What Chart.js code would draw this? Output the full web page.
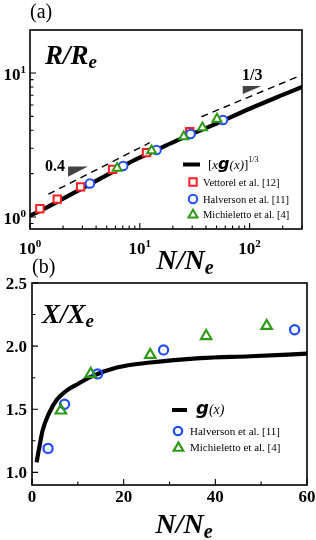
<!DOCTYPE html>
<html><head><meta charset="utf-8">
<script src="https://cdn.jsdelivr.net/npm/chart.js@4.4.1/dist/chart.umd.min.js"></script>
<style>
html,body{margin:0;padding:0;background:#fff;}
body{width:316px;height:540px;position:relative;overflow:hidden}
canvas{position:absolute;left:0}
#ca{top:0}
#cb{top:250px}
</style></head><body>
<canvas id="ca" width="316" height="290"></canvas>
<canvas id="cb" width="316" height="290"></canvas>
<script>
// ---------- Panel (a) data : R/Re vs N/Ne (log-log) ----------
const aCurveN = [1, 1.5, 2, 3, 5, 8, 12, 20, 30, 50, 100, 200, 300];
const aCurveR = [1.02, 1.19, 1.34, 1.58, 1.95, 2.38, 2.75, 3.30, 3.78, 4.45, 5.65, 7.05, 8.00];
const aVettorelN = [1.23, 1.77, 2.89, 5.65, 11.5, 28.5];
const aVettorelR = [1.14, 1.33, 1.62, 2.14, 2.80, 3.91];
const aHalversonN = [3.51, 7.05, 14.2, 29.0, 57.2];
const aHalversonR = [1.71, 2.26, 2.92, 3.77, 4.72];
const aMichielettoN = [6.22, 12.8, 25.1, 37.2, 50.4];
const aMichielettoR = [2.18, 2.89, 3.61, 4.17, 4.79];
const aGuide04N = [1.47, 12.3];
const aGuide04R = [1.44, 3.28];
const aGuide13N = [36.4, 300];
const aGuide13R = [4.97, 9.70];
const aSlope04TriN = [2.22, 3.37, 2.22];
const aSlope04TriR = [2.24, 2.24, 1.90];
const aSlope13TriN = [86.6, 128.7, 86.6];
const aSlope13TriR = [8.13, 8.13, 7.16];
const aXTicks = [1, 10, 100];
const aXTickExp = ['0', '1', '2'];
const aYTicks = [1, 10];
const aYTickExp = ['0', '1'];

// ---------- Panel (b) data : X/Xe vs N/Ne ----------
const bCurveN = [1, 1.6, 2.3, 3.6, 5.4, 7.6, 10, 12.7, 18.5, 25.8, 36.7, 47.6, 60];
const bCurveX = [1.08, 1.20, 1.33, 1.46, 1.575, 1.65, 1.70, 1.755, 1.83, 1.87, 1.905, 1.92, 1.94];
const bHalversonN = [3.5, 7.1, 14.3, 28.7, 57.3];
const bHalversonX = [1.19, 1.54, 1.78, 1.97, 2.13];
const bMichielettoN = [6.3, 12.8, 25.8, 38.0, 51.2];
const bMichielettoX = [1.49, 1.78, 1.93, 2.08, 2.16];
const bXTicks = [0, 20, 40, 60];
const bXTickLabels = ['0', '20', '40', '60'];
const bXMinor = [10, 30, 50];
const bYTicks = [1.0, 1.5, 2.0, 2.5];
const bYTickLabels = ['1.0', '1.5', '2.0', '2.5'];
const bYMinor = [1.25, 1.75, 2.25];

const RED = '#ff1f1f', BLUE = '#1f4dff', GREEN = '#2e9a14';
const SERIF = '"Liberation Serif","Times New Roman",serif';
const F = (s, w) => (w || '') + ' ' + s + 'px ' + SERIF;
const pts = (xs, ys) => xs.map((x, i) => ({x: x, y: ys[i]}));

function drawRuns(ctx, x, y, parts, align) {
  let w = 0;
  for (const p of parts) { ctx.font = p.f; w += ctx.measureText(p.t).width + (p.gap || 0); }
  let cx = align === 'center' ? x - w / 2 : align === 'right' ? x - w : x;
  ctx.textAlign = 'left'; ctx.textBaseline = 'alphabetic'; ctx.fillStyle = '#000';
  for (const p of parts) {
    ctx.font = p.f;
    ctx.fillText(p.t, cx, y + (p.dy || 0));
    cx += ctx.measureText(p.t).width + (p.gap || 0);
  }
}
function marker(ctx, style, x, y, r, color, lw) {
  ctx.save(); ctx.lineWidth = lw; ctx.strokeStyle = color; ctx.fillStyle = '#fff';
  ctx.beginPath();
  if (style === 'rect') { const s = Math.SQRT1_2 * r; ctx.rect(x - s, y - s, 2 * s, 2 * s); }
  else if (style === 'circle') { ctx.arc(x, y, r, 0, Math.PI * 2); }
  else { const k = Math.sin(Math.PI / 3) * r; ctx.moveTo(x, y - r); ctx.lineTo(x + k, y + r / 2); ctx.lineTo(x - k, y + r / 2); ctx.closePath(); }
  ctx.fill(); ctx.stroke(); ctx.restore();
}
function hline(ctx, x1, x2, y, w) {
  ctx.save(); ctx.lineWidth = w; ctx.strokeStyle = '#000'; ctx.beginPath(); ctx.moveTo(x1, y); ctx.lineTo(x2, y); ctx.stroke(); ctx.restore();
}

const panelA = {
  id: 'panelA',
  afterDatasetsDraw(chart) {
    const ctx = chart.ctx, a = chart.chartArea, xs = chart.scales.x, ys = chart.scales.y;
    ctx.save();
    ctx.fillStyle = '#444';
    [[aSlope04TriN, aSlope04TriR], [aSlope13TriN, aSlope13TriR]].forEach(([n, r]) => {
      ctx.beginPath();
      n.forEach((v, i) => { const px = xs.getPixelForValue(v), py = ys.getPixelForValue(r[i]); i ? ctx.lineTo(px, py) : ctx.moveTo(px, py); });
      ctx.closePath(); ctx.fill();
    });
    ctx.strokeStyle = '#000'; ctx.lineWidth = 1.6;
    ctx.strokeRect(a.left, a.top, a.right - a.left, a.bottom - a.top);
    ctx.lineWidth = 1.1; ctx.beginPath();
    aXTicks.forEach(t => { for (let m = 1; m < 10; m++) { const v = t * m; if (v > xs.max) break; const px = xs.getPixelForValue(v); const L = m === 1 ? 6 : 3.5; ctx.moveTo(px, a.bottom); ctx.lineTo(px, a.bottom - L); } });
    [0.1].concat(aYTicks).forEach(t => { for (let m = 1; m < 10; m++) { const v = t * m; if (v < ys.min || v > ys.max) continue; const py = ys.getPixelForValue(v); const L = (m === 1) ? 6 : 3.5; ctx.moveTo(a.left, py); ctx.lineTo(a.left + L, py); } });
    ctx.stroke();
    aXTicks.forEach((t, i) => drawRuns(ctx, xs.getPixelForValue(t), 254, [{t: '10', f: F(17, 'bold')}, {t: aXTickExp[i], f: F(11, 'bold'), dy: -7}], 'center'));
    aYTicks.forEach((t, i) => drawRuns(ctx, 26, ys.getPixelForValue(t) + 7, [{t: '10', f: F(17, 'bold')}, {t: aYTickExp[i], f: F(11, 'bold'), dy: -7}], 'right'));
    drawRuns(ctx, 30, 18, [{t: '(a)', f: F(20, '')}]);
    drawRuns(ctx, 45, 64, [{t: 'R/R', f: F(27, 'bold italic')}, {t: 'e', f: F(19, 'bold italic'), dy: 4}]);
    drawRuns(ctx, 185, 269, [{t: 'N/N', f: F(28, 'bold italic')}, {t: 'e', f: F(20, 'bold italic'), dy: 5}], 'center');
    drawRuns(ctx, 45, 171, [{t: '0.4', f: F(16, 'bold')}]);
    drawRuns(ctx, 242, 80, [{t: '1/3', f: F(16, 'bold')}]);
    hline(ctx, 183, 200, 164.5, 4);
    drawRuns(ctx, 208, 169, [{t: '[', f: F(13, '')}, {t: 'x', f: F(13, 'italic')}, {t: 'g', f: 'bold italic 16px "DejaVu Sans"'}, {t: '(x)', f: F(13, 'italic')}, {t: ']', f: F(13, '')}, {t: '1/3', f: F(8, ''), dy: -7}]);
    marker(ctx, 'rect', 193, 182, 5.2, RED, 2);
    drawRuns(ctx, 203, 186, [{t: 'Vettorel et al. [12]', f: F(10.5, '')}]);
    marker(ctx, 'circle', 193, 199, 4.2, BLUE, 2);
    drawRuns(ctx, 203, 203, [{t: 'Halverson et al. [11]', f: F(10.5, '')}]);
    marker(ctx, 'triangle', 193, 215, 5.2, GREEN, 2);
    drawRuns(ctx, 203, 218, [{t: 'Michieletto et al. [4]', f: F(10.5, '')}]);
    ctx.restore();
  }
};

const panelB = {
  id: 'panelB',
  afterDatasetsDraw(chart) {
    const ctx = chart.ctx, a = chart.chartArea, xs = chart.scales.x, ys = chart.scales.y;
    ctx.save();
    ctx.strokeStyle = '#000'; ctx.lineWidth = 1.6;
    ctx.strokeRect(a.left, a.top, a.right - a.left, a.bottom - a.top);
    ctx.lineWidth = 1.1; ctx.beginPath();
    bXTicks.concat(bXMinor).forEach((t, i) => { const px = xs.getPixelForValue(t); const L = i < bXTicks.length ? 6 : 3.5; ctx.moveTo(px, a.bottom); ctx.lineTo(px, a.bottom - L); });
    bYTicks.concat(bYMinor).forEach((t, i) => { const py = ys.getPixelForValue(t); const L = i < bYTicks.length ? 6 : 3.5; ctx.moveTo(a.left, py); ctx.lineTo(a.left + L, py); });
    ctx.stroke();
    bXTicks.forEach((t, i) => drawRuns(ctx, xs.getPixelForValue(t), 251.5, [{t: bXTickLabels[i], f: F(17, 'bold')}], 'center'));
    bYTicks.forEach((t, i) => drawRuns(ctx, 27, ys.getPixelForValue(t) + 6, [{t: bYTickLabels[i], f: F(17, 'bold')}], 'right'));
    drawRuns(ctx, 32, 23, [{t: '(b)', f: F(20, '')}]);
    drawRuns(ctx, 42, 73, [{t: 'X/X', f: F(27, 'bold italic')}, {t: 'e', f: F(19, 'bold italic'), dy: 4}]);
    drawRuns(ctx, 184, 283, [{t: 'N/N', f: F(28, 'bold italic')}, {t: 'e', f: F(20, 'bold italic'), dy: 5}], 'center');
    hline(ctx, 172, 187, 160, 4);
    drawRuns(ctx, 196, 164, [{t: 'g', f: 'bold italic 18px "DejaVu Sans"'}, {t: '(x)', f: F(14, 'italic')}]);
    marker(ctx, 'circle', 178, 181, 4.2, BLUE, 2.2);
    drawRuns(ctx, 190, 185, [{t: 'Halverson et al. [11]', f: F(11, '')}]);
    marker(ctx, 'triangle', 178.5, 198, 5.5, GREEN, 2.2);
    drawRuns(ctx, 190, 201, [{t: 'Michieletto et al. [4]', f: F(11, '')}]);
    ctx.restore();
  }
};

const common = {
  responsive: false, animation: false, devicePixelRatio: 1, events: [],
  plugins: {legend: {display: false}, tooltip: {enabled: false}}
};

new Chart(document.getElementById('ca'), {
  type: 'scatter',
  data: {datasets: [
    {type: 'line', data: pts(aGuide04N, aGuide04R), borderColor: '#000', borderWidth: 1.4, borderDash: [7, 5], pointRadius: 0, order: 9},
    {type: 'line', data: pts(aGuide13N, aGuide13R), borderColor: '#000', borderWidth: 1.4, borderDash: [7, 5], pointRadius: 0, order: 9},
    {type: 'line', data: pts(aCurveN, aCurveR), borderColor: '#000', borderWidth: 4.2, pointRadius: 0, cubicInterpolationMode: 'monotone', order: 8},
    {data: pts(aVettorelN, aVettorelR), pointStyle: 'rect', pointRadius: 5.2, borderColor: RED, backgroundColor: '#fff', borderWidth: 2, order: 3},
    {data: pts(aHalversonN, aHalversonR), pointStyle: 'circle', pointRadius: 4.3, borderColor: BLUE, backgroundColor: '#fff', borderWidth: 2, order: 2},
    {data: pts(aMichielettoN, aMichielettoR), pointStyle: 'triangle', pointRadius: 5.2, borderColor: GREEN, backgroundColor: '#fff', borderWidth: 2, order: 1}
  ]},
  options: Object.assign({}, common, {
    layout: {padding: {left: 30, top: 30, right: 14, bottom: 61}},
    scales: {
      x: {type: 'logarithmic', min: 1, max: 300, display: false},
      y: {type: 'logarithmic', min: 0.825, max: 19.9, display: false}
    }
  }),
  plugins: [panelA]
});

new Chart(document.getElementById('cb'), {
  type: 'scatter',
  data: {datasets: [
    {type: 'line', data: pts(bCurveN, bCurveX), borderColor: '#000', borderWidth: 4.2, pointRadius: 0, cubicInterpolationMode: 'monotone', order: 8},
    {data: pts(bHalversonN, bHalversonX), pointStyle: 'circle', pointRadius: 4.6, borderColor: BLUE, backgroundColor: 'rgba(255,255,255,0)', borderWidth: 2.2, order: 2},
    {data: pts(bMichielettoN, bMichielettoX), pointStyle: 'triangle', pointRadius: 6, borderColor: GREEN, backgroundColor: 'rgba(255,255,255,0)', borderWidth: 2.2, order: 1}
  ]},
  options: Object.assign({}, common, {
    layout: {padding: {left: 32, top: 33, right: 9, bottom: 55}},
    scales: {
      x: {type: 'linear', min: 0, max: 60, display: false},
      y: {type: 'linear', min: 0.9, max: 2.5, display: false}
    }
  }),
  plugins: [panelB]
});
</script></body></html>
